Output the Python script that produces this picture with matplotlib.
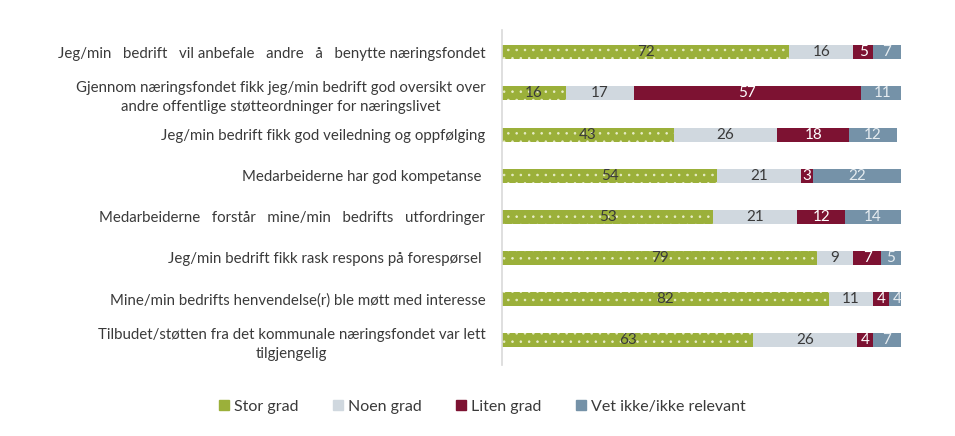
import matplotlib
matplotlib.use("Agg")
import matplotlib.pyplot as plt
import numpy as np

# --- Data -------------------------------------------------------------------

statements = [
    "Jeg/min   bedrift   vil anbefale   andre   å   benytte næringsfondet",
    "Gjennom næringsfondet fikk jeg/min bedrift god oversikt over\nandre offentlige støtteordninger for næringslivet",
    "Jeg/min bedrift fikk god veiledning og oppfølging",
    "Medarbeiderne har god kompetanse ",
    "Medarbeiderne   forstår   mine/min   bedrifts   utfordringer",
    "Jeg/min bedrift fikk rask respons på forespørsel ",
    "Mine/min bedrifts henvendelse(r) ble møtt med interesse",
    "Tilbudet/støtten fra det kommunale næringsfondet var lett\ntilgjengelig",
]
series = ["Stor grad", "Noen grad", "Liten grad", "Vet ikke/ikke relevant"]
stor_grad = [72, 16, 43, 54, 53, 79, 82, 63]
noen_grad = [16, 17, 26, 21, 21, 9, 11, 26]
liten_grad = [5, 57, 18, 3, 12, 7, 4, 4]
vet_ikke = [7, 11, 12, 22, 14, 5, 4, 7]

colors = ["#9bb03a", "#d0d8df", "#7d1232", "#7592a8"]
text_colors = ["#3a3a3a", "#3a3a3a", "#ffffff", "#e6ecf0"]

plt.rcParams["font.family"] = ["Lato", "DejaVu Sans"]
plt.rcParams["hatch.color"] = "#e8edc8"
plt.rcParams["hatch.linewidth"] = 0.6

fig = plt.figure(figsize=(9.55, 4.36), dpi=100)
ax = fig.add_axes([502 / 955, 1 - 365 / 436, 399 / 955, 335 / 436])

y = np.arange(len(statements))
left = np.zeros(len(statements))
for k, vals in enumerate([stor_grad, noen_grad, liten_grad, vet_ikke]):
    vals = np.array(vals, dtype=float)
    ax.barh(y, vals, left=left, height=0.34, color=colors[k], linewidth=0,
            hatch=".." if k == 0 else None, label=series[k])
    for yi, l, v in zip(y, left, vals):
        ax.text(l + v / 2, yi, f"{int(v)}", ha="center", va="center",
                fontsize=11, color=text_colors[k])
    left += vals

ax.set_xlim(0, 100)
ax.set_ylim(7.6, -0.54)
ax.set_yticks(y)
ax.set_yticklabels(statements, fontsize=10.8, color="#3a3a3a",
                   multialignment="center", linespacing=1.45)
ax.tick_params(axis="y", length=0, pad=12)
ax.set_xticks([])
for s in ["top", "right", "bottom"]:
    ax.spines[s].set_visible(False)
ax.spines["left"].set_color("#d9d9d9")
ax.spines["left"].set_linewidth(1.2)

handles = [plt.Rectangle((0, 0), 1, 1, color=c) for c in colors]
fig.legend(handles, series, loc="center", bbox_to_anchor=(0.505, 1 - 407 / 436),
           ncol=4, frameon=False, fontsize=11.5, handlelength=0.6,
           handleheight=0.6, handletextpad=0.3, columnspacing=2.2,
           labelcolor="#3a3a3a")

fig.savefig("out.png", dpi=100)
